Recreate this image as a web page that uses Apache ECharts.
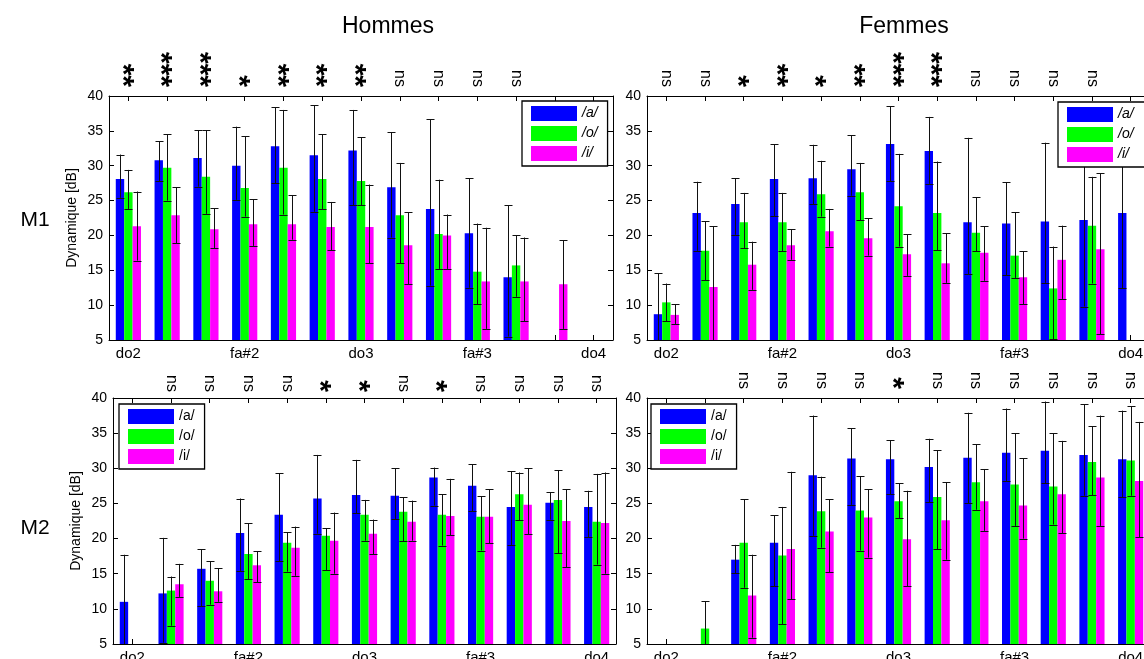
<!DOCTYPE html>
<html><head><meta charset="utf-8">
<script src="https://cdn.jsdelivr.net/npm/echarts@6/dist/echarts.min.js"></script>
<style>html,body{margin:0;padding:0;background:#fff}#c{width:1144px;height:659px}</style>
</head><body><div id="c"></div>
<script>
// ---------------- data ----------------
const categories = ['do2','re2','mi2','fa#2','sol#2','la#2','do3','re3','mi3','fa#3','sol#3','la#3','do4'];
const vowels = ['/a/','/o/','/i/'];
const yTicks = [5,10,15,20,25,30,35,40];
const panelTitles = ['Hommes','Femmes'];
const rowTitles = ['M1','M2'];
const yName = 'Dynamique [dB]';

// significance labels (one per category)
const sigHM1 = ['**','***','***','*','**','**','**','ns','ns','ns','ns','',''];
const sigFM1 = ['ns','ns','*','**','*','**','***','***','ns','ns','ns','ns',''];
const sigHM2 = ['','ns','ns','ns','ns','*','*','ns','*','ns','ns','ns','ns'];
const sigFM2 = ['','','ns','ns','ns','ns','*','ns','ns','ns','ns','ns','ns'];

// Hommes M1
const hm1_a    = [28.1,30.8,31.1,30.0,32.8,31.5,32.2,26.9,23.8,20.3,14.0,null,null];
const hm1_a_lo = [25.4,27.8,27.0,25.1,27.5,23.4,24.3,19.7,12.8,12.5,5.5,null,null];
const hm1_a_hi = [31.6,33.5,35.1,35.6,38.4,38.7,38.0,34.8,36.7,28.2,24.3,null,null];
const hm1_o    = [26.2,29.7,28.4,26.8,29.7,28.1,27.8,22.9,20.2,14.8,15.7,null,null];
const hm1_o_lo = [23.8,25.0,23.1,22.7,23.0,23.8,24.3,16.0,15.2,10.1,11.2,null,null];
const hm1_o_hi = [29.4,34.5,35.1,34.2,38.0,34.5,34.1,30.4,28.0,21.7,20.0,null,null];
const hm1_i    = [21.3,22.9,20.9,21.6,21.6,21.2,21.2,18.6,20.0,13.4,13.4,13.0,null];
const hm1_i_lo = [16.4,18.9,18.2,18.5,19.4,17.9,16.0,13.0,15.2,6.6,7.7,6.6,null];
const hm1_i_hi = [26.3,26.9,23.9,25.2,25.8,24.8,27.3,23.3,23.0,21.1,19.7,19.3,null];

// Femmes M1
const fm1_a    = [8.7,23.2,24.5,28.1,28.2,29.5,33.1,32.1,21.9,21.7,22.0,22.2,23.2];
const fm1_a_lo = [2.8,17.8,20.1,22.8,24.5,25.7,27.8,27.4,14.4,14.3,13.2,9.8,12.4];
const fm1_a_hi = [14.6,27.7,28.2,33.1,33.0,34.4,38.5,37.0,34.0,27.6,33.3,34.6,34.0];
const fm1_o    = [10.4,17.8,21.9,21.9,25.9,26.2,24.2,23.2,20.4,17.1,12.4,21.4,null];
const fm1_o_lo = [7.7,13.6,18.2,17.7,22.7,22.2,18.4,17.9,17.7,13.9,5.1,13.1,null];
const fm1_o_hi = [13.1,22.0,26.1,26.1,30.7,30.4,31.7,30.6,25.5,23.3,18.4,28.4,null];
const fm1_i    = [8.6,12.6,15.8,18.6,20.6,19.6,17.3,16.0,17.5,14.0,16.5,18.0,null];
const fm1_i_lo = [7.3,3.9,12.2,16.5,18.4,17.1,14.2,13.2,13.5,10.1,10.9,5.8,null];
const fm1_i_hi = [10.1,21.3,19.1,20.9,23.8,22.5,20.2,20.3,21.3,17.7,21.4,28.9,null];

// Hommes M2
const hm2_a    = [11.0,12.2,15.7,20.8,23.4,25.7,26.2,26.1,28.7,27.5,24.5,25.1,24.5];
const hm2_a_lo = [4.3,5.2,10.4,15.4,16.8,20.7,23.6,22.8,24.7,23.9,19.1,22.7,20.2];
const hm2_a_hi = [17.7,20.1,18.5,25.7,29.3,31.9,31.2,30.0,30.1,30.6,29.6,26.6,26.8];
const hm2_o    = [null,12.6,14.0,17.8,19.4,20.4,23.4,23.8,23.4,23.1,26.3,25.5,22.4];
const hm2_o_lo = [null,7.6,10.6,14.2,15.3,15.5,19.7,19.6,19.0,18.3,22.6,17.9,16.3];
const hm2_o_hi = [null,14.6,16.8,22.2,20.9,21.5,25.5,25.9,26.3,26.0,29.4,29.7,29.2];
const hm2_i    = [null,13.5,12.5,16.2,18.7,19.7,20.7,22.4,23.2,23.1,24.8,22.5,22.2];
const hm2_i_lo = [null,11.7,11.0,13.8,14.7,15.0,17.8,19.7,20.5,19.3,20.6,15.9,15.0];
const hm2_i_hi = [null,16.4,15.8,18.2,21.7,23.7,22.7,25.4,28.5,27.0,30.0,27.0,29.4];

// Femmes M2
const fm2_a    = [null,null,17.0,19.4,29.0,31.4,31.3,30.2,31.5,32.2,32.5,31.9,31.3];
const fm2_a_lo = [null,null,15.1,13.2,20.4,24.8,26.3,25.2,25.0,28.2,27.9,26.1,25.9];
const fm2_a_hi = [null,null,19.1,23.3,37.5,35.7,34.0,34.2,37.9,38.5,39.5,39.1,38.2];
const fm2_o    = [null,7.2,19.4,17.6,23.9,24.0,25.3,25.9,28.0,27.7,27.4,30.9,31.1];
const fm2_o_lo = [null,3.3,13.0,7.8,18.7,18.3,22.9,18.5,24.1,21.8,22.0,26.2,26.1];
const fm2_o_hi = [null,11.1,25.6,24.5,28.8,28.9,27.9,32.6,33.4,35.0,35.0,36.0,38.8];
const fm2_i    = [null,null,11.9,18.5,21.0,23.0,19.9,22.6,25.3,24.7,26.3,28.7,28.2];
const fm2_i_lo = [null,null,5.9,11.4,15.2,17.3,13.2,17.0,21.1,20.0,20.8,21.8,20.2];
const fm2_i_hi = [null,null,17.7,29.5,25.6,27.0,26.8,28.0,29.9,31.4,33.9,37.5,36.6];

// ---------------- layout / style ----------------
const FONT = "'Liberation Sans', Arial, Helvetica, sans-serif";
const colors = ['#0000ff','#00ff00','#ff00ff'];
const panels = [
  {sig: sigHM1, m:[hm1_a,hm1_o,hm1_i], lo:[hm1_a_lo,hm1_o_lo,hm1_i_lo], hi:[hm1_a_hi,hm1_o_hi,hm1_i_hi],
   grid:{left:109, top:96, width:504, height:244}, leg:{left:522, top:101}, legPadR:10, yname:true, sigMargin:9, legItalic:true},
  {sig: sigFM1, m:[fm1_a,fm1_o,fm1_i], lo:[fm1_a_lo,fm1_o_lo,fm1_i_lo], hi:[fm1_a_hi,fm1_o_hi,fm1_i_hi],
   grid:{left:647, top:96, width:503, height:244}, leg:{left:1058, top:102}, legPadR:14, yname:false, sigMargin:9, legItalic:true},
  {sig: sigHM2, m:[hm2_a,hm2_o,hm2_i], lo:[hm2_a_lo,hm2_o_lo,hm2_i_lo], hi:[hm2_a_hi,hm2_o_hi,hm2_i_hi],
   grid:{left:113, top:398, width:503, height:246}, leg:{left:119, top:404}, legPadR:10, yname:true, sigMargin:6, legItalic:false},
  {sig: sigFM2, m:[fm2_a,fm2_o,fm2_i], lo:[fm2_a_lo,fm2_o_lo,fm2_i_lo], hi:[fm2_a_hi,fm2_o_hi,fm2_i_hi],
   grid:{left:647, top:398, width:503, height:246}, leg:{left:651, top:404}, legPadR:10, yname:false, sigMargin:9, legItalic:false}
];

function errRender(vIdx){
  return function(params, api){
    const i = api.value(0), lo = api.value(1), hi = api.value(2);
    const band = api.size([1,0])[0];
    const bw = band*0.65/3;
    const pLo = api.coord([i, lo]);
    const pHi = api.coord([i, hi]);
    const x = Math.round(pLo[0] + (vIdx-1)*bw) + 0.5;
    const cap = 4;
    const st = {stroke:'#111', lineWidth:1};
    return {type:'group', children:[
      {type:'line', shape:{x1:x, y1:pLo[1], x2:x, y2:pHi[1]}, style:st},
      {type:'line', shape:{x1:x-cap, y1:Math.round(pHi[1])+0.5, x2:x+cap, y2:Math.round(pHi[1])+0.5}, style:st},
      {type:'line', shape:{x1:x-cap, y1:Math.round(pLo[1])+0.5, x2:x+cap, y2:Math.round(pLo[1])+0.5}, style:st}
    ]};
  };
}

const grid = [], xAxis = [], yAxis = [], series = [], legend = [];
panels.forEach((p, k) => {
  grid.push(Object.assign({containLabel:false, outerBoundsMode:'none'}, p.grid));
  const axLine = {show:true, lineStyle:{color:'#000', width:1}};
  const tick = {show:true, inside:true, length:5, lineStyle:{color:'#000'}};
  xAxis.push({type:'category', gridIndex:k, data:categories, position:'bottom',
    axisLine:axLine, axisTick:Object.assign({alignWithLabel:true, interval:0}, tick),
    axisLabel:{interval:2, margin:6, fontSize:15, color:'#000', fontFamily:FONT},
    splitLine:{show:false}});
  xAxis.push({type:'category', gridIndex:k, data:p.sig, position:'top',
    axisLine:axLine, axisTick:Object.assign({alignWithLabel:true, interval:0}, tick),
    axisLabel:{interval:0, rotate:90, margin:p.sigMargin, color:'#000',
      formatter: v => v === 'ns' ? '{n|ns}' : (v ? '{s|' + v + '}' : ''),
      rich:{ n:{fontSize:16, fontFamily:FONT, color:'#000'},
             s:{fontSize:30, fontWeight:'bold', fontFamily:FONT, color:'#000', padding:[13,0,0,0]} }},
    splitLine:{show:false}});
  yAxis.push({type:'value', gridIndex:k, min:yTicks[0], max:yTicks[yTicks.length-1], interval:5, position:'left',
    axisLine:axLine, axisTick:tick,
    axisLabel:{fontSize:14, margin:6, color:'#000', fontFamily:FONT},
    splitLine:{show:false},
    name: p.yname ? yName : '', nameLocation:'middle', nameGap:30,
    nameTextStyle:{fontSize:14, color:'#000', fontFamily:FONT}});
  yAxis.push({type:'value', gridIndex:k, min:yTicks[0], max:yTicks[yTicks.length-1], interval:5, position:'right',
    axisLine:axLine, axisTick:tick, axisLabel:{show:false}, splitLine:{show:false}});
  for (let v = 0; v < 3; v++) {
    series.push({type:'bar', name:vowels[v], xAxisIndex:2*k, yAxisIndex:2*k, data:p.m[v],
      itemStyle:{color:colors[v]}, barGap:'0%', barCategoryGap:'35%', silent:true, z:2});
  }
  for (let v = 0; v < 3; v++) {
    const rows = [];
    p.m[v].forEach((val, i) => { if (val !== null && p.lo[v][i] !== null) rows.push([i, p.lo[v][i], p.hi[v][i]]); });
    series.push({type:'custom', xAxisIndex:2*k, yAxisIndex:2*k, data:rows, renderItem:errRender(v),
      encode:{x:0, y:[1,2]}, clip:true, silent:true, z:3});
  }
  legend.push({data:vowels, orient:'vertical', left:p.leg.left, top:p.leg.top,
    itemWidth:46, itemHeight:15, itemGap:5, padding:[5,p.legPadR,5,9], icon:'rect',
    backgroundColor:'#fff', borderColor:'#000', borderWidth:1.3, selectedMode:false, z:10,
    textStyle:{fontSize:14, fontFamily:FONT, color:'#000', fontStyle: p.legItalic ? 'italic' : 'normal'}});
});

const txt = (t, x, y, size) => ({type:'text', x:x, y:y, silent:true,
  style:{text:t, font:'normal ' + size + 'px ' + FONT, fill:'#000', textAlign:'center', textVerticalAlign:'middle', align:'center', verticalAlign:'middle'}});

const chart = echarts.init(document.getElementById('c'), null, {renderer:'canvas'});
chart.setOption({
  animation:false,
  backgroundColor:'#fff',
  grid, xAxis, yAxis, series, legend,
  graphic:[
    txt(panelTitles[0], 388, 27, 23),
    txt(panelTitles[1], 904, 27, 23),
    txt(rowTitles[0], 35, 220, 21),
    txt(rowTitles[1], 35, 528, 21)
  ]
});
</script></body></html>
